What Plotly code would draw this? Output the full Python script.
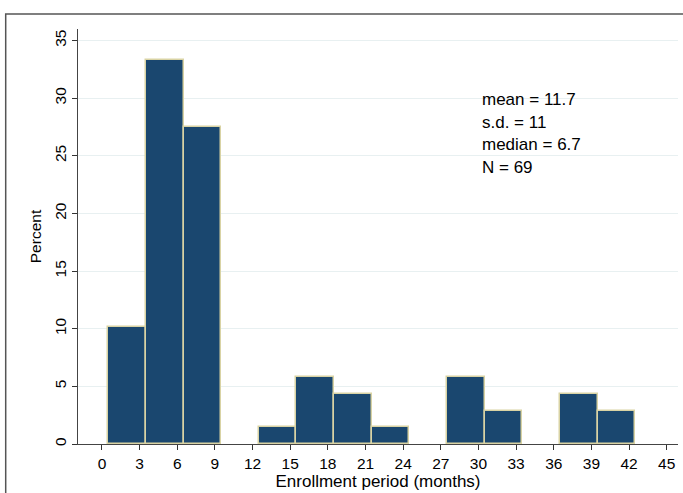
import plotly.graph_objects as go

# Data (bin width 3 months, starting at 0.5)
bin_centers = [2, 5, 8, 11, 14, 17, 20, 23, 26, 29, 32, 35, 38, 41]
percent = [10.14, 33.33, 27.54, 0, 1.45, 5.80, 4.35, 1.45, 0, 5.80, 2.90, 0, 4.35, 2.90]
bin_width = 3

x_ticks = list(range(0, 46, 3))
y_ticks = [0, 5, 10, 15, 20, 25, 30, 35]

stat_labels = ["mean = 11.7", "s.d. = 11", "median = 6.7", "N = 69"]
stat_y = [29.85, 27.9, 25.95, 24.0]
stat_x = 30.15

FONT = "Liberation Sans, Arial, sans-serif"

# empty bins are not drawn (no outline on the axis)
bar_x = [c for c, v in zip(bin_centers, percent) if v > 0]
bar_y = [v for v in percent if v > 0]

fig = go.Figure()
fig.add_trace(go.Bar(
    x=bar_x, y=bar_y, width=bin_width,
    marker=dict(color="#1a476f", line=dict(color="#d9d3a4", width=1.5)),
    hoverinfo="x+y",
))

for txt, yy in zip(stat_labels, stat_y):
    fig.add_annotation(x=stat_x, y=yy, xref="x", yref="y", text=txt,
                       showarrow=False, xanchor="left", yanchor="middle",
                       font=dict(family=FONT, size=17, color="#000000"))

# outer frame (left and top edges visible)
fig.add_shape(type="rect", xref="paper", yref="paper",
              x0=-0.1205, x1=1.05, y0=-0.2, y1=1.036,
              line=dict(color="#555555", width=1.5), layer="below")

fig.update_layout(
    width=683, height=493,
    margin=dict(l=78, r=5, t=29, b=49),
    paper_bgcolor="white", plot_bgcolor="white",
    showlegend=False, bargap=0,
    font=dict(family=FONT, size=15.5, color="#000000"),
    xaxis=dict(
        range=[-1.91, 45.9], tickmode="array", tickvals=x_ticks,
        ticks="outside", ticklen=5, tickcolor="#333333", tickwidth=1.3,
        showline=True, linecolor="#444444", linewidth=1.3,
        showgrid=False, zeroline=False,
        title=dict(text="Enrollment period (months)", font=dict(size=17), standoff=2),
        tickfont=dict(size=15.5),
    ),
    yaxis=dict(
        range=[0, 36.0], tickmode="array", tickvals=y_ticks,
        ticks="outside", ticklen=5, tickcolor="#333333", tickwidth=1.3,
        showline=True, linecolor="#444444", linewidth=1.3,
        showgrid=True, gridcolor="#e8f0f1", gridwidth=1,
        zeroline=False, tickangle=-90,
        title=dict(text="Percent", font=dict(size=15.5), standoff=6),
        tickfont=dict(size=15.5),
    ),
)

fig.write_html("out.html", config={"displayModeBar": False},
               post_script="document.body.style.margin='0px';")
